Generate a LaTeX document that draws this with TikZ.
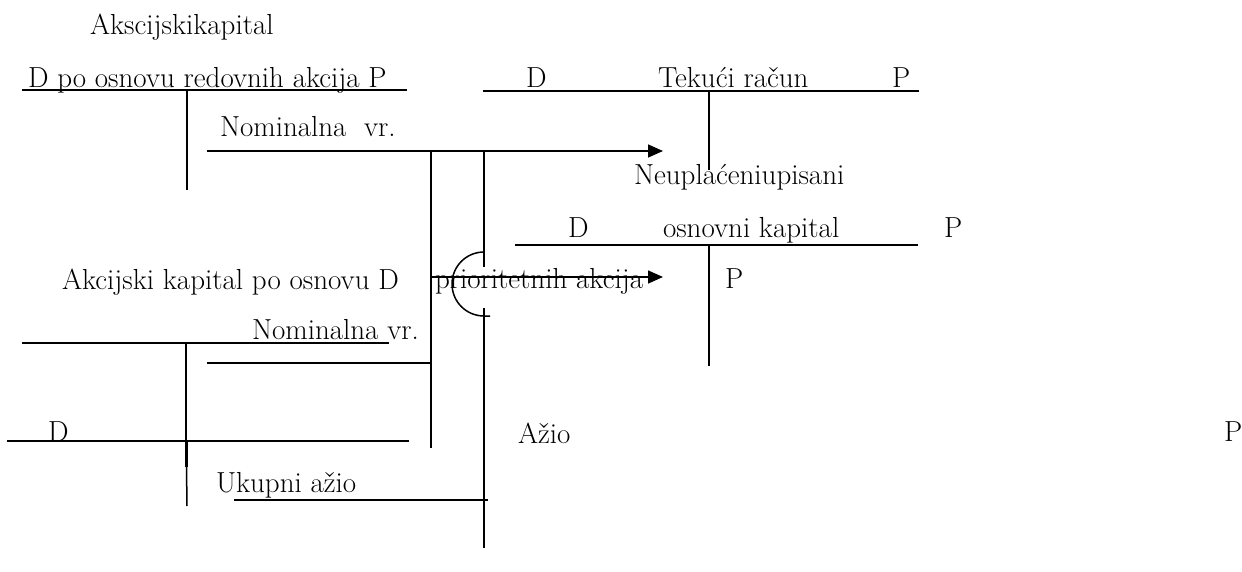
\documentclass[tikz,border=0pt]{standalone}
\usepackage{fontspec}
\setmainfont{Latin Modern Roman}
\usetikzlibrary{arrows.meta}
\begin{document}
\begin{tikzpicture}[x=1pt,y=-1pt,
  txt/.style={anchor=base west,inner sep=0pt,outer sep=0pt,font=\fontsize{29}{34}\selectfont,text=black},
  ln/.style={line width=1.5pt,black},
  arr/.style={ln,-{Triangle[length=15pt,width=13pt]}}]
\useasboundingbox (0,0) rectangle (1242,572);
% texts
\node[txt] (t1) at (90,35) {Akscijskikapital};
\node[txt] (t2) at (28,88) {D po osnovu redovnih akcija P};
\node[txt] (t3) at (220,137) {Nominalna\ \ vr.};
\node[txt] (t4d) at (526,88) {D};
\node[txt] (t4) at (658,88) {Tekući račun};
\node[txt] (t4p) at (892,88) {P};
\node[txt] (t5) at (634,185) {Neuplaćeniupisani};
\node[txt] (t6d) at (568,237) {D};
\node[txt] (t6) at (663,237) {osnovni kapital};
\node[txt] (t6p) at (944,237) {P};
\node[txt] (t7) at (62,289) {Akcijski kapital po osnovu D};
\node[txt] (t8) at (435,288) {prioritetnih akcija};
\node[txt] (t8p) at (725,288) {P};
\node[txt] (t9) at (252,339) {Nominalna vr.};
\node[txt] (t10d) at (48,441) {D};
\node[txt] (t10) at (518,443) {Ažio};
\node[txt] (t10p) at (1224,441) {P};
\node[txt] (t11) at (216,492) {Ukupni ažio};
% coordinates
\coordinate (a1s) at (207,151);
\coordinate (a1e) at (663,151);
\coordinate (a2s) at (431,277);
\coordinate (a2e) at (663,277);
\coordinate (vA1) at (431,151);
\coordinate (vA2) at (431,448);
\coordinate (vB1) at (484,151);
\coordinate (vB2) at (484,267);
\coordinate (vB3) at (484,252);
\coordinate (vB4) at (484,308);
\coordinate (vB5) at (484,548);
% T-account lines
\draw[ln] (22,90) -- (407,90);
\draw[ln] (187,90) -- (187,190);
\draw[ln] (483,91) -- (919,91);
\draw[ln] (709,91) -- (709,170);
\draw[ln] (515,245) -- (918,245);
\draw[ln] (709,245) -- (709,366);
\draw[ln] (22,343) -- (389,343);
\draw[ln] (186,343) -- (186,441);
\draw[ln] (207,363) -- (vA2 |- 0,363);
\draw[ln] (7,441) -- (409,441);
\draw[line width=2.2pt] (186.5,441) -- (186.5,467);
\draw[ln] (186.5,467) -- (187,506);
\draw[ln] (234,500) -- (488,500);
% arrows and connectors
\draw[arr] (a1s) -- (a1e);
\draw[arr] (a2s) -- (a2e);
\draw[ln] (vA1) -- (vA2);
\draw[ln] (vB1) -- (vB2);
\draw[ln] (vB3) arc[start angle=90,end angle=270,radius=32pt] -- ++(6,0);
\draw[ln] (vB4) -- (vB5);
\end{tikzpicture}
\end{document}
